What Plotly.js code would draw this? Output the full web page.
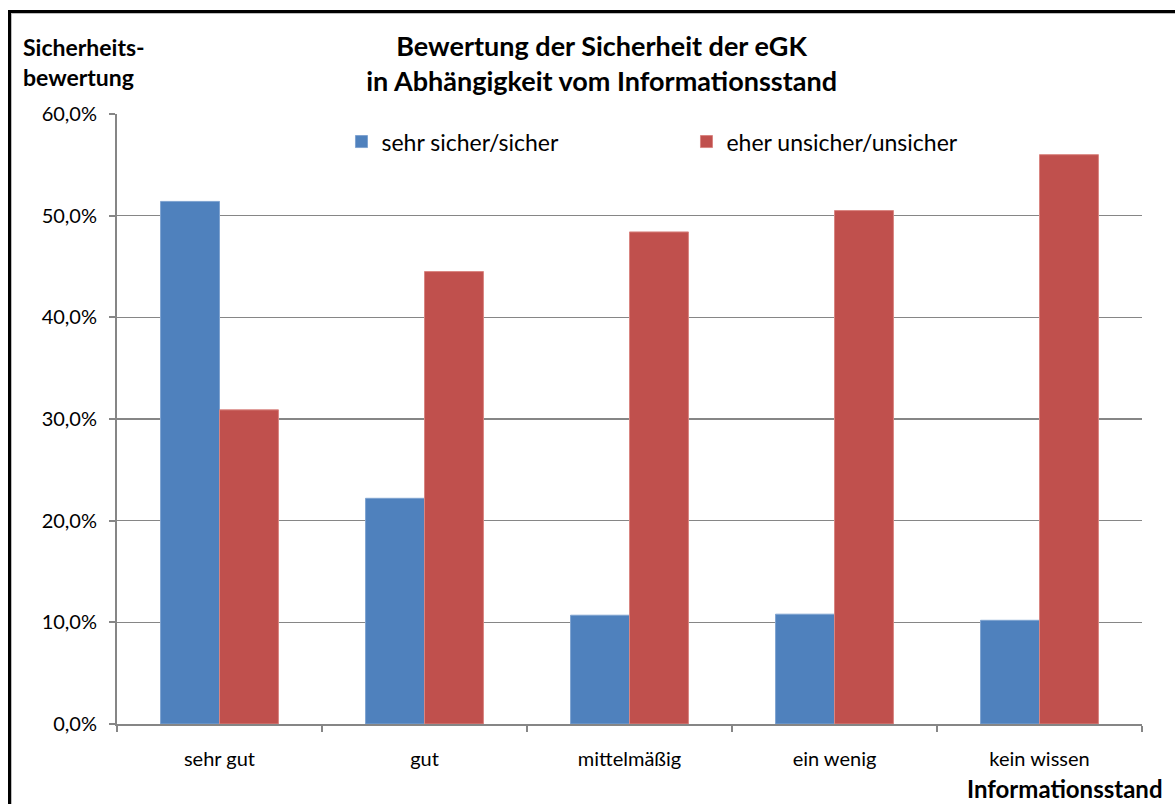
<!DOCTYPE html>
<html>
<head>
<meta charset="utf-8">
<script src="https://cdn.plot.ly/plotly-3.0.1.min.js"></script>
<style>
  html, body { margin: 0; padding: 0; background: #fff; }
  #wrap { position: relative; width: 1175px; height: 804px; overflow: hidden; }
  #chart { position: absolute; left: 0; top: 0; width: 1175px; height: 804px; }
  #frame { position: absolute; left: 8px; top: 10px; width: 1200px; height: 840px;
           border: 3px solid #000; box-shadow: inset 1px 1px 0 #bdbdbd; pointer-events: none; }
</style>
</head>
<body>
<div id="wrap">
  <div id="chart"></div>
  <div id="frame"></div>
</div>
<script>
const categories = ["sehr gut", "gut", "mittelmäßig", "ein wenig", "kein wissen"];
const seriesNames = ["sehr sicher/sicher", "eher unsicher/unsicher"];
const sicher = [0.514, 0.222, 0.107, 0.108, 0.102];
const unsicher = [0.309, 0.445, 0.484, 0.505, 0.560];
const yTickVals = [0, 0.1, 0.2, 0.3, 0.4, 0.5, 0.6];
const titleText = "Bewertung der Sicherheit der eGK<br>in Abhängigkeit vom Informationsstand";
const yTitleText = "Sicherheits-<br>bewertung";
const xTitleText = "Informationsstand";

const FONT = "Lato, 'Open Sans', sans-serif";
const GRID = "#868686";

const traces = [
  { type: "bar", name: seriesNames[0], x: categories, y: sicher,
    marker: { color: "#4F81BD", line: { color: "#7FA3D0", width: 1 } }, hoverinfo: "skip" },
  { type: "bar", name: seriesNames[1], x: categories, y: unsicher,
    marker: { color: "#C0504D", line: { color: "#D98581", width: 1 } }, hoverinfo: "skip" }
];

const layout = {
  width: 1175, height: 804,
  paper_bgcolor: "rgba(0,0,0,0)", plot_bgcolor: "#fff",
  separators: ",.",
  margin: { l: 117, r: 33, t: 114, b: 80 },
  barmode: "group", bargap: 0.425, bargroupgap: 0,
  font: { family: FONT, color: "#000", size: 20 },
  title: { text: titleText, font: { family: FONT, size: 27, weight: "bold", color: "#000" },
           xref: "container", x: 0.512, xanchor: "center", yref: "container", y: 0.93, yanchor: "top" },
  xaxis: { type: "category", showline: true, linecolor: GRID, linewidth: 2,
           ticks: "outside", tickson: "boundaries", ticklen: 6, tickcolor: GRID, tickwidth: 2,
           ticklabelstandoff: 16, tickfont: { family: FONT, size: 20, color: "#000" },
           showgrid: false, fixedrange: true },
  yaxis: { range: [0, 0.6], tickvals: yTickVals, tickformat: ".1%",
           showline: true, linecolor: GRID, linewidth: 2, ticks: "outside", ticklen: 6,
           tickcolor: GRID, tickwidth: 2, ticklabelstandoff: 8,
           showgrid: true, gridcolor: GRID, gridwidth: 1.5, zeroline: false,
           tickfont: { family: FONT, size: 20, color: "#000" }, fixedrange: true },
  legend: { orientation: "h", x: 0.219, xanchor: "left", y: 0.99, yanchor: "top",
            font: { family: FONT, size: 23, color: "#000" }, bgcolor: "rgba(0,0,0,0)",
            entrywidth: 300, itemwidth: 30, traceorder: "normal" },
  annotations: [
    { text: yTitleText, xref: "paper", yref: "paper", x: -0.094, xanchor: "left",
      y: 1.136, yanchor: "top", showarrow: false, align: "left",
      font: { family: FONT, size: 23, weight: "bold", color: "#000" } },
    { text: xTitleText, xref: "paper", yref: "paper", x: 1.0225, xanchor: "right",
      y: -0.078, yanchor: "top", showarrow: false,
      font: { family: FONT, size: 24, weight: "bold", color: "#000" } }
  ],
  showlegend: true
};

Plotly.newPlot("chart", traces, layout, { staticPlot: true, displayModeBar: false });
</script>
</body>
</html>
